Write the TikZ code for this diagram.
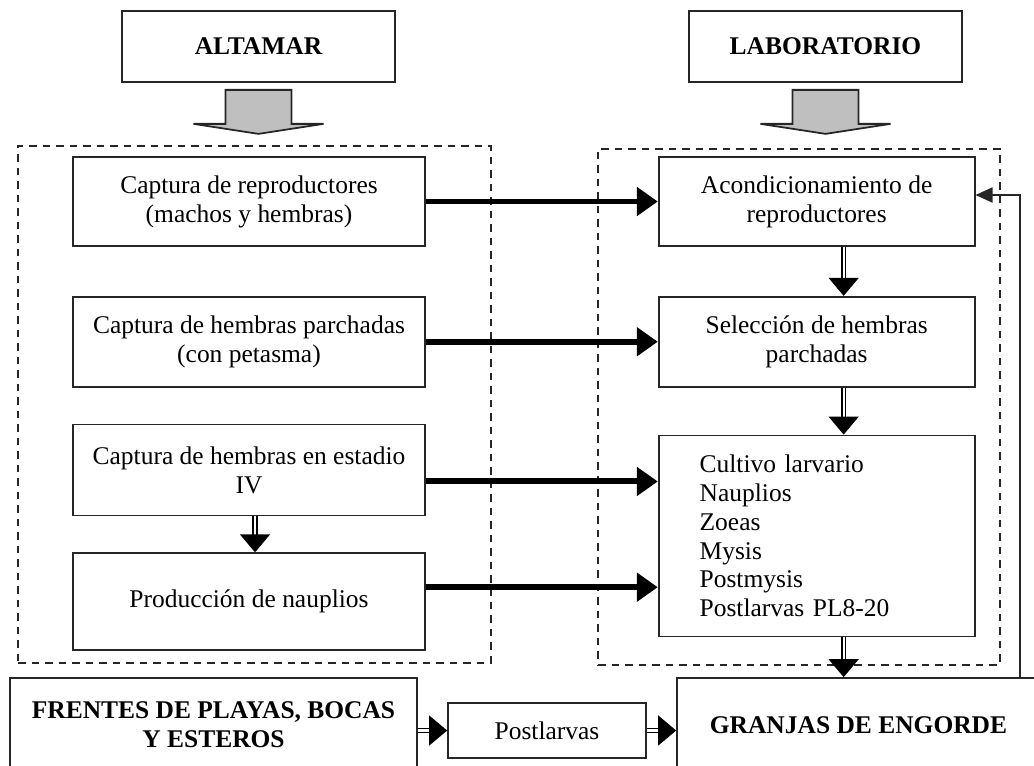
\documentclass[tikz,border=0pt]{standalone}
\usepackage{fontspec}
\setmainfont{Liberation Serif}
\usetikzlibrary{arrows.meta,positioning}
\newcommand{\bajada}[1]{\draw [bloque] ([shift={(-33,7)}]#1.south) -- ++(0,34) -- ++(-32,0) -- ([shift={(0,51)}]#1.south) -- ([shift={(65,41)}]#1.south) -- ++(-32,0) -- ([shift={(33,7)}]#1.south) -- cycle;}

\begin{document}
\begin{tikzpicture}[x=0.02cm,y=-0.02cm,every node/.append style={align=center,font=\fontsize{14.5}{16.4}\selectfont},caja/.style={draw=black!85,line width=1pt,inner sep=0pt},titulo/.style={caja,minimum width=5.46cm,minimum height=1.42cm,font=\fontsize{14.5}{16.4}\selectfont\bfseries},izq/.style={caja,minimum width=7.04cm},der/.style={caja,minimum width=6.32cm},marco/.style={draw=black!85,line width=0.9pt,dash pattern=on 0.15cm off 0.12cm,inner sep=0pt},gruesa/.style={line width=3.4pt,-{Triangle[width=0.56cm,length=0.42cm]}},doble/.style={double,double distance=1.3pt,line width=0.8pt,-{Triangle[width=0.6cm,length=0.36cm]}},fina/.style={draw=black!85,line width=1pt,-{Triangle[width=0.3cm,length=0.34cm]}},bloque/.style={draw=black!85,line width=1pt,fill=gray!50},]
    \clip (0,0) rectangle (1034,765);
    \node [titulo] (alta) at (258.5,46.5) {ALTAMAR};
    \node [titulo] (labo) at (825.5,46.5) {LABORATORIO};
    \bajada{alta}
    \bajada{labo}
    \node [marco, minimum width=9.46cm, minimum height=10.34cm] (mar) at (254.5,404.5) {};
    \node [marco, minimum width=8.04cm, minimum height=10.32cm] (lab) at (799,407) {};
    \node [izq, minimum height=1.78cm] (c1) at (249,201.5) {Captura de reproductores\\(machos y hembras)};
    \node [izq, minimum height=1.8cm, below=0.98cm of c1] (c2) {Captura de hembras parchadas\\(con petasma)};
    \node [izq, minimum height=1.82cm, below=0.72cm of c2] (c3) {Captura de hembras en estadio\\IV};
    \node [izq, minimum height=1.94cm, below=0.72cm of c3] (c4) {Producción de nauplios};
    \node [der, minimum height=1.78cm, right=4.64cm of c1] (acon) {Acondicionamiento de\\reproductores};
    \node [der, minimum height=1.8cm, below=0.98cm of acon] (sele) {Selección de hembras\\parchadas};
    \node [der, minimum height=4.02cm, text width=4.68cm, inner xsep=0.82cm, align=left, below=0.94cm of sele] (cult) {Cultivo larvario\\Nauplios\\Zoeas\\Mysis\\Postmysis\\Postlarvas PL8-20};
    \node [caja, font=\fontsize{14.5}{16.4}\selectfont\bfseries, minimum width=8.14cm, minimum height=1.88cm] (fren) at (213.5,725) {FRENTES DE PLAYAS, BOCAS\\Y ESTEROS};
    \node [caja, minimum width=3.96cm, minimum height=1.1cm] (post) at (547,730.5) {Postlarvas};
    \node [caja, font=\fontsize{14.5}{16.4}\selectfont\bfseries, minimum width=7.26cm, minimum height=1.88cm] (gran) at (858.5,725) {GRANJAS DE ENGORDE};
    \path[gruesa] (c1) edge (acon);
    \path[gruesa] (c2) edge (sele);
    \path[gruesa] ([yshift=-0.23cm]c3.east) edge ([yshift=-0.23cm]c3.east -| cult.west);
    \path[gruesa] ([yshift=0.29cm]c4.east) edge ([yshift=0.29cm]c4.east -| cult.west);
    \draw[doble] ([xshift=0.54cm]acon.south) -- ([xshift=0.54cm]sele.north);
    \draw[doble] ([xshift=0.54cm]sele.south) -- ([xshift=0.54cm]cult.north);
    \draw[doble] ([xshift=0.54cm]cult.south) -- ([xshift=0.54cm]cult.south |- gran.north);
    \draw[doble] ([xshift=0.12cm]c3.south) -- ([xshift=0.12cm]c4.north);
    \draw[doble] (fren.east |- post.west) -- (post.west);
    \draw[doble] (post.east) -- (post.east -| gran.west);
    \coordinate (vuelta) at (1020,195);
    \draw[fina] (gran.north -| vuelta) -- (vuelta) -- (vuelta -| acon.east);
\end{tikzpicture}
\end{document}
